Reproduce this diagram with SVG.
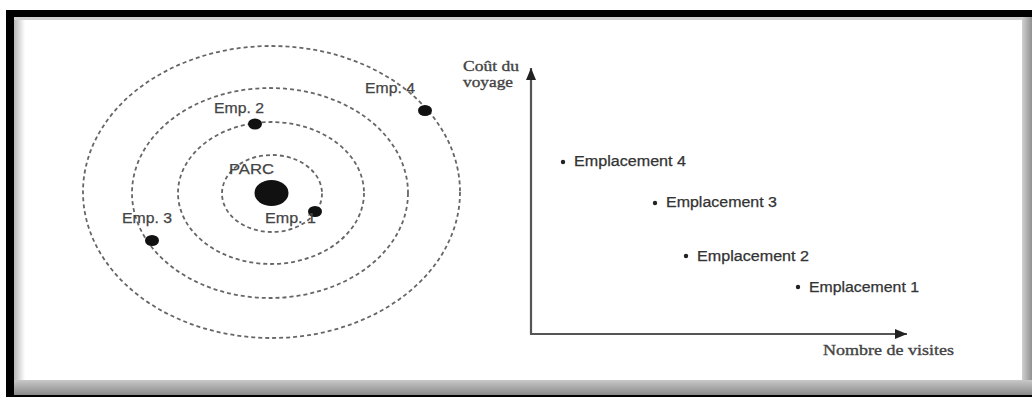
<svg xmlns="http://www.w3.org/2000/svg" width="1032" height="397" viewBox="0 0 1032 397">
<defs>
<linearGradient id="leftG" x1="0" y1="0" x2="1" y2="0"><stop offset="0" stop-color="#b8b8b8"/><stop offset="1" stop-color="#ffffff"/></linearGradient>
<linearGradient id="botG" x1="0" y1="0" x2="0" y2="1"><stop offset="0" stop-color="#c8c8c8"/><stop offset="1" stop-color="#8a8a8a"/></linearGradient>
<linearGradient id="rightG" x1="0" y1="0" x2="1" y2="0"><stop offset="0" stop-color="#d0d0d0"/><stop offset="1" stop-color="#909090"/></linearGradient>
<marker id="arr" viewBox="0 0 12 10" refX="12" refY="5" markerWidth="12" markerHeight="10" markerUnits="userSpaceOnUse" orient="auto"><path d="M0,0 L12,5 L0,10 Z" fill="#222"/></marker>
</defs>
<style>
.orbit{fill:none;stroke:#666;stroke-width:1.8;stroke-dasharray:4 3}
.planet{fill:#111}
.lbl{font-family:"Liberation Sans",Arial,sans-serif;font-size:15px;fill:#444;stroke:#444;stroke-width:0.25}
.pt{font-family:"Liberation Sans",Arial,sans-serif;font-size:14px;fill:#333;stroke:#333;stroke-width:0.25}
.ax{font-family:"Liberation Serif","Times New Roman",serif;font-size:15px;fill:#444;stroke:#444;stroke-width:0.35}
.axis{stroke:#555;stroke-width:2.2;fill:none}
.dot{fill:#222}
</style>
<rect x="0" y="0" width="1032" height="397" fill="#fff"/>
<rect x="6" y="10" width="1026" height="387" fill="#000"/>
<rect x="14" y="17" width="1018" height="378" fill="#9a9a9a"/>
<rect x="14" y="17" width="1008" height="363" fill="#fff"/>
<rect x="14" y="17" width="11" height="363" fill="url(#leftG)"/>
<rect x="14" y="17" width="1008" height="3" fill="#d0d0d0"/>
<rect x="14" y="380" width="1018" height="15" fill="url(#botG)"/>
<rect x="1022" y="17" width="10" height="363" fill="url(#rightG)"/>

<g id="orbits">
<ellipse class="orbit" cx="271.5" cy="192" rx="188.5" ry="146"/>
<ellipse class="orbit" cx="270" cy="193" rx="138" ry="105"/>
<ellipse class="orbit" cx="271" cy="193" rx="93" ry="71"/>
<ellipse class="orbit" cx="272" cy="193.5" rx="50" ry="38.5"/>
</g>
<g id="parc">
<ellipse class="planet" cx="271.5" cy="193" rx="17" ry="13"/>
<text class="lbl" x="229" y="174" textLength="45" lengthAdjust="spacingAndGlyphs">PARC</text>
</g>
<g id="emp1">
<ellipse class="planet" cx="315" cy="211.5" rx="7" ry="5.5"/>
<text class="lbl" x="265" y="223" textLength="51" lengthAdjust="spacingAndGlyphs">Emp. 1</text>
</g>
<g id="emp2">
<ellipse class="planet" cx="255" cy="124" rx="7" ry="5.5"/>
<text class="lbl" x="214" y="113" textLength="50" lengthAdjust="spacingAndGlyphs">Emp. 2</text>
</g>
<g id="emp3">
<ellipse class="planet" cx="152" cy="240.5" rx="7" ry="5.5"/>
<text class="lbl" x="122" y="223" textLength="50" lengthAdjust="spacingAndGlyphs">Emp. 3</text>
</g>
<g id="emp4">
<ellipse class="planet" cx="425" cy="110.5" rx="7" ry="5.5"/>
<text class="lbl" x="365" y="93" textLength="50" lengthAdjust="spacingAndGlyphs">Emp. 4</text>
</g>

<g id="connectors">
<line class="axis" x1="531" y1="334" x2="531" y2="68" marker-end="url(#arr)"/>
<line class="axis" x1="530" y1="334" x2="907" y2="334" marker-end="url(#arr)"/>
</g>
<g id="yaxis-label">
<text class="ax" x="463" y="71" textLength="56" lengthAdjust="spacingAndGlyphs">Coût du</text>
<text class="ax" x="463" y="87" textLength="50" lengthAdjust="spacingAndGlyphs">voyage</text>
</g>
<g id="xaxis-label">
<text class="ax" x="823" y="355" textLength="131" lengthAdjust="spacingAndGlyphs">Nombre de visites</text>
</g>
<g id="emplacement4">
<circle class="dot" cx="563" cy="162" r="2.2"/>
<text class="pt" x="574" y="166" textLength="112" lengthAdjust="spacingAndGlyphs">Emplacement 4</text>
</g>
<g id="emplacement3">
<circle class="dot" cx="655" cy="203" r="2.2"/>
<text class="pt" x="666" y="207" textLength="111" lengthAdjust="spacingAndGlyphs">Emplacement 3</text>
</g>
<g id="emplacement2">
<circle class="dot" cx="686" cy="256" r="2.2"/>
<text class="pt" x="697" y="261" textLength="112" lengthAdjust="spacingAndGlyphs">Emplacement 2</text>
</g>
<g id="emplacement1">
<circle class="dot" cx="798" cy="287" r="2.2"/>
<text class="pt" x="809" y="292" textLength="110" lengthAdjust="spacingAndGlyphs">Emplacement 1</text>
</g>
</svg>
